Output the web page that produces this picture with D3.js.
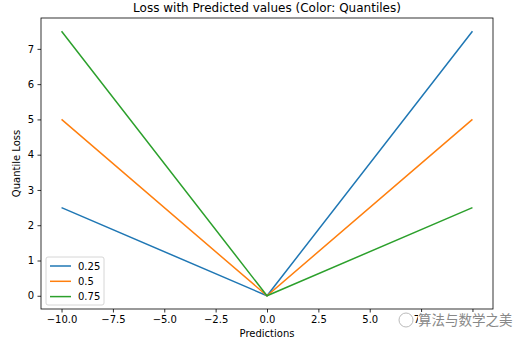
<!DOCTYPE html>
<html>
<head>
<meta charset="utf-8">
<script src="https://cdn.jsdelivr.net/npm/d3@7"></script>
<style>
  body { margin: 0; background: #fff; }
  svg { font-family: "DejaVu Sans", sans-serif; }
</style>
</head>
<body>
<svg id="drawing_region"></svg>
<script>
// data
const quantiles = ['0.25', '0.5', '0.75'];
const predictions = [-10, 0, 10];
const loss_q025 = [2.5, 0, 7.5];
const loss_q05 = [5, 0, 5];
const loss_q075 = [7.5, 0, 2.5];
const xticks = [-10, -7.5, -5, -2.5, 0, 2.5, 5, 7.5, 10];
const yticks = [0, 1, 2, 3, 4, 5, 6, 7];

const series = [loss_q025, loss_q05, loss_q075];
const colors = ['#1f77b4', '#ff7f0e', '#2ca02c'];

const width = 529, height = 343;
const margin = {top: 18, right: 36, bottom: 34, left: 41};
const inner_width = width - margin.left - margin.right;
const inner_height = height - margin.top - margin.bottom;

const svg = d3.select('#drawing_region')
    .attr('width', width)
    .attr('height', height);

const chart = svg.append('g')
    .attr('transform', `translate(${margin.left}, ${margin.top})`);

const xscale = d3.scaleLinear().domain([-11, 11]).range([0, inner_width]);
const yscale = d3.scaleLinear().domain([-0.375, 7.875]).range([inner_height, 0]);

const line = d3.line()
    .x((d, i) => xscale(predictions[i]))
    .y(d => yscale(d));

series.forEach((s, i) => {
    chart.append('path')
        .datum(s)
        .attr('d', line)
        .attr('fill', 'none')
        .attr('stroke', colors[i])
        .attr('stroke-width', 1.5);
});

// axes
const xaxis = d3.axisBottom(xscale)
    .tickValues(xticks)
    .tickSize(3.5)
    .tickPadding(3.5)
    .tickFormat(d => d3.format('.1f')(d).replace('-', '\u2212'));

const yaxis = d3.axisLeft(yscale)
    .tickValues(yticks)
    .tickSize(3.5)
    .tickPadding(3.5)
    .tickFormat(d3.format('d'));

chart.append('g')
    .attr('transform', `translate(0, ${inner_height})`)
    .call(xaxis)
    .call(g => g.select('.domain').remove());

chart.append('g')
    .call(yaxis)
    .call(g => g.select('.domain').remove());

chart.selectAll('.tick text')
    .style('font-size', '10px')
    .style('font-family', '"DejaVu Sans", sans-serif')
    .attr('fill', '#000');
chart.selectAll('.tick line').attr('stroke', '#000').attr('stroke-width', 0.8);

// frame
chart.append('rect')
    .attr('width', inner_width)
    .attr('height', inner_height)
    .attr('fill', 'none')
    .attr('stroke', '#000')
    .attr('stroke-width', 0.8);

// title and labels
svg.append('text')
    .attr('x', margin.left + inner_width / 2)
    .attr('y', 12)
    .style('text-anchor', 'middle')
    .style('font-size', '12px')
    .text('Loss with Predicted values (Color: Quantiles)');

svg.append('text')
    .attr('x', margin.left + inner_width / 2)
    .attr('y', 337)
    .style('text-anchor', 'middle')
    .style('font-size', '10px')
    .text('Predictions');

svg.append('text')
    .attr('transform', 'rotate(-90)')
    .attr('x', -(margin.top + inner_height / 2))
    .attr('y', 20)
    .style('text-anchor', 'middle')
    .style('font-size', '10px')
    .text('Quantile Loss');

// legend
const legend = chart.append('g')
    .attr('transform', 'translate(5, 239)');

legend.append('rect')
    .attr('width', 58)
    .attr('height', 48)
    .attr('rx', 2)
    .attr('fill', '#fff')
    .attr('fill-opacity', 0.8)
    .attr('stroke', '#ccc')
    .attr('stroke-width', 0.8);

quantiles.forEach((q, i) => {
    const y = 9 + i * 15.3;
    legend.append('line')
        .attr('x1', 4).attr('x2', 25)
        .attr('y1', y).attr('y2', y)
        .attr('stroke', colors[i])
        .attr('stroke-width', 1.5);
    legend.append('text')
        .attr('x', 32)
        .attr('y', y + 3.5)
        .style('font-size', '10px')
        .text(q);
});

// watermark (sits over the last tick labels, like the source image)
const wm = svg.append('g');
wm.append('rect')
    .attr('x', 418).attr('y', 312)
    .attr('width', 100).attr('height', 18)
    .attr('fill', '#fff');
wm.append('circle').attr('cx', 406).attr('cy', 320).attr('r', 7)
    .attr('fill', 'none').attr('stroke', '#bbb').attr('stroke-width', 1);
wm.append('text')
    .attr('x', 418)
    .attr('y', 325)
    .style('font-size', '13.5px')
    .style('font-family', '"Noto Sans CJK SC", sans-serif')
    .attr('fill', '#888')
    .text('算法与数学之美');
</script>
</body>
</html>
